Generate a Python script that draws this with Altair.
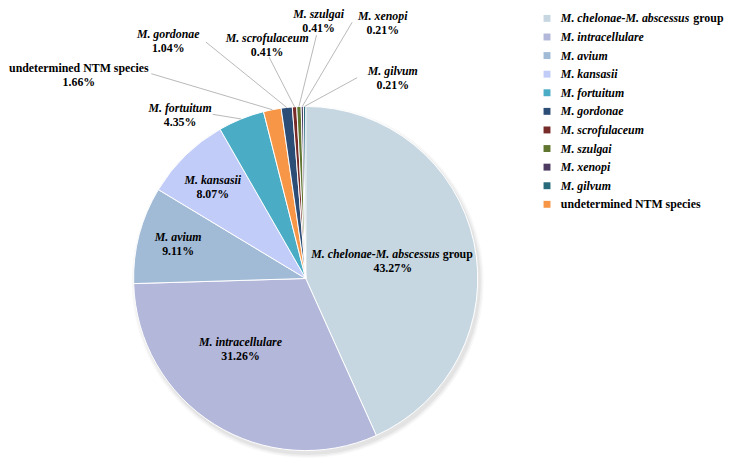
import altair as alt
import pandas as pd

# ---------------- data ----------------
slice_names = [
    "M. chelonae-M. abscessus group", "M. intracellulare", "M. avium", "M. kansasii",
    "M. fortuitum", "undetermined NTM species", "M. gordonae", "M. scrofulaceum",
    "M. szulgai", "M. xenopi", "M. gilvum",
]
slice_pcts = [43.27, 31.26, 9.11, 8.07, 4.35, 1.66, 1.04, 0.41, 0.41, 0.21, 0.21]

legend_order = [
    "M. chelonae-M. abscessus group", "M. intracellulare", "M. avium", "M. kansasii",
    "M. fortuitum", "M. gordonae", "M. scrofulaceum", "M. szulgai", "M. xenopi",
    "M. gilvum", "undetermined NTM species",
]
legend_colors = [
    "#C6D7E2", "#B3B7DA", "#A1BAD5", "#C2CCF8", "#4BACC6", "#2C4D75",
    "#772C2A", "#5F7530", "#4D3B62", "#276A7C", "#F79646",
]

# italic / upright parts of each name
italic_part = {n: n for n in slice_names}
plain_part = {n: "" for n in slice_names}
italic_part["M. chelonae-M. abscessus group"] = "M. chelonae-M. abscessus"
plain_part["M. chelonae-M. abscessus group"] = "group"
italic_part["undetermined NTM species"] = ""
plain_part["undetermined NTM species"] = "undetermined NTM species"

# ---------------- label layout (unit circle coordinates, y up) ----------------
label_pos = {
    "M. chelonae-M. abscessus group": (0.506, 0.101),
    "M. intracellulare": (-0.379, -0.411),
    "M. avium": (-0.741, 0.198),
    "M. kansasii": (-0.540, 0.532),
    "M. fortuitum": (-0.730, 0.948),
    "undetermined NTM species": (-1.318, 1.181),
    "M. gordonae": (-0.799, 1.379),
    "M. scrofulaceum": (-0.224, 1.356),
    "M. szulgai": (0.075, 1.494),
    "M. xenopi": (0.448, 1.483),
    "M. gilvum": (0.506, 1.164),
}
leader_from = {
    "M. fortuitum": (-0.540, 0.954),
    "undetermined NTM species": (-0.897, 1.190),
    "M. gordonae": (-0.580, 1.374),
    "M. scrofulaceum": (-0.213, 1.287),
    "M. szulgai": (0.063, 1.414),
    "M. xenopi": (0.270, 1.489),
    "M. gilvum": (0.299, 1.167),
}

rows = []
for i, (n, p) in enumerate(zip(slice_names, slice_pcts)):
    lx, ly = label_pos[n]
    sx, sy = leader_from.get(n, (None, None))
    rows.append(dict(name=n, pct=p, idx=i, ital=italic_part[n], plain=plain_part[n],
                     lx=lx, ly=ly, sx=sx, sy=sy))
df = pd.DataFrame(rows)

leg_df = pd.DataFrame({
    "name": legend_order,
    "ital": [italic_part[n] for n in legend_order],
    "plain": [plain_part[n] for n in legend_order],
})

# ---------------- geometry ----------------
R = 174
CX, CY = 301, 271  # pie centre inside the plot area
FONT = "Liberation Serif, Times New Roman, DejaVu Serif, serif"

xs = alt.Scale(domain=[-1, 1], range=[CX - R, CX + R], zero=False, nice=False)
ys = alt.Scale(domain=[-1, 1], range=[CY + R, CY - R], zero=False, nice=False)
color = alt.Color("name:N", scale=alt.Scale(domain=legend_order, range=legend_colors), legend=None)

base = alt.Chart(df).transform_joinaggregate(
    total="sum(pct)"
).transform_window(
    cum="sum(pct)", sort=[alt.SortField("idx")], frame=[None, 0]
).transform_calculate(
    t0="(datum.cum - datum.pct) / datum.total * 2 * PI",
    t1="datum.cum / datum.total * 2 * PI",
).transform_calculate(
    tm="(datum.t0 + datum.t1) / 2",
    pct_label="format(datum.pct, '.2f') + '%'",
).transform_calculate(
    ex="sin(datum.tm)",
    ey="cos(datum.tm)",
)

# soft drop shadow behind the pie (whole disc, slightly offset)
shadow_src = alt.Chart(pd.DataFrame({"s": [1]}))
shadows = []
for k, op in [(4, 0.05), (2.5, 0.07), (1, 0.10)]:
    shadows.append(
        shadow_src.mark_arc(outerRadius=R + k, color="#7F7F7F", opacity=op,
                            theta=0, theta2=6.2832).encode(
            x=alt.datum(0.012, scale=xs, type="quantitative", axis=None),
            y=alt.datum(-0.02, scale=ys, type="quantitative", axis=None),
        )
    )

arcs = base.mark_arc(outerRadius=R, stroke="white", strokeWidth=1).encode(
    theta=alt.Theta("t0:Q", scale=None),
    theta2="t1:Q",
    x=alt.datum(0, scale=xs, type="quantitative", axis=None),
    y=alt.datum(0, scale=ys, type="quantitative", axis=None),
    color=color,
)

leaders = base.transform_filter("isValid(datum.sx)").mark_rule(
    color="#A6A6A6", strokeWidth=0.8
).encode(
    x=alt.X("sx:Q", scale=xs, axis=None),
    y=alt.Y("sy:Q", scale=ys, axis=None),
    x2="ex:Q",
    y2="ey:Q",
)

txt = dict(font=FONT, fontSize=12, fontWeight="bold", color="black")
pos = dict(x=alt.X("lx:Q", scale=xs, axis=None), y=alt.Y("ly:Q", scale=ys, axis=None))

name_italic = base.transform_filter("datum.plain == ''").mark_text(
    fontStyle="italic", dy=-7, **txt).encode(text="ital:N", **pos)
name_plain = base.transform_filter("datum.ital == ''").mark_text(
    dy=-7, **txt).encode(text="plain:N", **pos)
mixed_it = base.transform_filter("datum.ital != '' && datum.plain != ''").mark_text(
    fontStyle="italic", align="right", dx=47.5, dy=-7, **txt).encode(text="ital:N", **pos)
mixed_pl = base.transform_filter("datum.ital != '' && datum.plain != ''").mark_text(
    align="left", dx=50.5, dy=-7, **txt).encode(text="plain:N", **pos)
pct_text = base.mark_text(dy=7, **txt).encode(text="pct_label:N", **pos)

pie = alt.layer(*shadows, arcs, leaders, name_italic, name_plain, mixed_it, mixed_pl, pct_text)

# ---------------- legend ----------------
LX = 545
ly_scale = alt.Scale(type="point", domain=legend_order, range=[8, 196], padding=0)
leg = alt.Chart(leg_df)
leg_sq = leg.mark_square(size=49, opacity=1).encode(
    x=alt.value(LX),
    y=alt.Y("name:N", scale=ly_scale, axis=None, sort=legend_order),
    color=color,
)
leg_it = leg.transform_filter("datum.ital != ''").mark_text(
    align="left", fontStyle="italic", **txt).encode(
    x=alt.value(LX + 14), y=alt.Y("name:N", scale=ly_scale, axis=None, sort=legend_order),
    text="ital:N")
leg_pl_only = leg.transform_filter("datum.ital == ''").mark_text(
    align="left", **txt).encode(
    x=alt.value(LX + 14), y=alt.Y("name:N", scale=ly_scale, axis=None, sort=legend_order),
    text="plain:N")
leg_pl_mixed = leg.transform_filter("datum.ital != '' && datum.plain != ''").mark_text(
    align="left", dx=134, **txt).encode(
    x=alt.value(LX + 14), y=alt.Y("name:N", scale=ly_scale, axis=None, sort=legend_order),
    text="plain:N")
legend = alt.layer(leg_sq, leg_it, leg_pl_only, leg_pl_mixed)

chart = alt.layer(pie, legend).resolve_scale(y="independent").properties(
    width=727, height=451, padding=0,
    autosize=alt.AutoSizeParams(type="none"),
).configure_view(stroke=None)

chart.save("out.html", embed_options={"renderer": "svg", "actions": False})
